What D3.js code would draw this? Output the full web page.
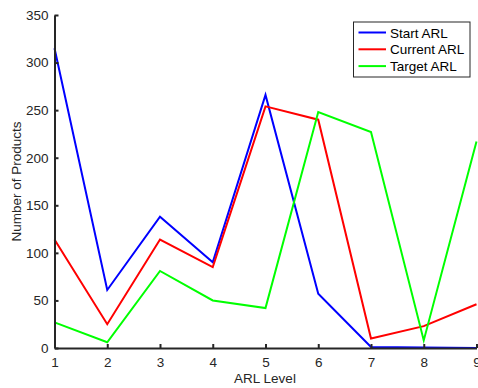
<!DOCTYPE html>
<html>
<head>
<meta charset="utf-8">
<script src="https://cdn.jsdelivr.net/npm/d3@7"></script>
<style>
  body { margin: 0; background: #fff; }
  svg { font-family: "Liberation Sans", Arial, sans-serif; }
  .axis path, .axis line { stroke: #262626; }
  .axis text { fill: #262626; font-size: 13.5px; }
</style>
</head>
<body>
<svg width="478" height="388"></svg>
<script>
// ARL levels on the x axis
var levels = [1, 2, 3, 4, 5, 6, 7, 8, 9];
var startArl = [315, 61, 138, 90, 266, 57, 1, 0.5, 0];
var currentArl = [114, 25, 114, 85, 254, 240, 10, 23, 46];
var targetArl = [27, 6, 81, 50, 42, 248, 227, 8, 217];
var seriesNames = ['Start ARL', 'Current ARL', 'Target ARL'];
var seriesColors = ['#0000ff', '#ff0000', '#00ff00'];
var yTicks = [0, 50, 100, 150, 200, 250, 300, 350];

var svg = d3.select('svg');
var margin = {l: 54.5, r: 1.5, t: 15, b: 40};
var width = 478 - margin.l - margin.r;
var height = 388 - margin.t - margin.b;

var chartG = svg.append('g')
    .attr('transform', 'translate(' + margin.l + ',' + margin.t + ')');

var x = d3.scaleLinear().domain([1, 9]).range([0, width]);
var y = d3.scaleLinear().domain([0, 350]).range([height, 0]);

// MATLAB style: ticks point inward
var xAxis = d3.axisBottom(x).tickValues(levels).tickSizeInner(-4).tickSizeOuter(0).tickPadding(9);
var yAxis = d3.axisLeft(y).tickValues(yTicks).tickSizeInner(-4).tickSizeOuter(0).tickPadding(6);

var series = [startArl, currentArl, targetArl];
var line = d3.line()
    .x(function(d, i) { return x(levels[i]); })
    .y(function(d) { return y(d); });

series.forEach(function(s, k) {
  chartG.append('path')
    .datum(s)
    .attr('fill', 'none')
    .attr('stroke', seriesColors[k])
    .attr('stroke-width', 2)
    .attr('d', line);
});

chartG.append('g').attr('class', 'x axis')
  .attr('transform', 'translate(0,' + height + ')')
  .call(xAxis)
  .call(function(g) { g.selectAll('path, line').attr('stroke-width', 2); });

chartG.append('g').attr('class', 'y axis')
  .call(yAxis)
  .call(function(g) { g.selectAll('path, line').attr('stroke-width', 2); });

// axis labels
svg.append('text')
  .attr('x', 265)
  .attr('y', 383)
  .attr('text-anchor', 'middle')
  .attr('font-size', 13.5)
  .attr('fill', '#262626')
  .text('ARL Level');

svg.append('text')
  .attr('transform', 'translate(21,' + (margin.t + height / 2) + ') rotate(-90)')
  .attr('text-anchor', 'middle')
  .attr('font-size', 13.5)
  .attr('fill', '#262626')
  .text('Number of Products');

// legend
var legend = svg.append('g').attr('transform', 'translate(353.5,22)');
legend.append('rect')
  .attr('width', 116.5).attr('height', 55)
  .attr('fill', '#fff').attr('stroke', '#262626').attr('stroke-width', 1);
seriesNames.forEach(function(name, k) {
  var yy = 10.5 + k * 16.8;
  legend.append('line')
    .attr('x1', 5).attr('x2', 32.5).attr('y1', yy).attr('y2', yy)
    .attr('stroke', seriesColors[k]).attr('stroke-width', 2);
  legend.append('text')
    .attr('x', 36.5).attr('y', yy + 5)
    .attr('font-size', 13.5).attr('fill', '#000')
    .text(name);
});
</script>
</body>
</html>
